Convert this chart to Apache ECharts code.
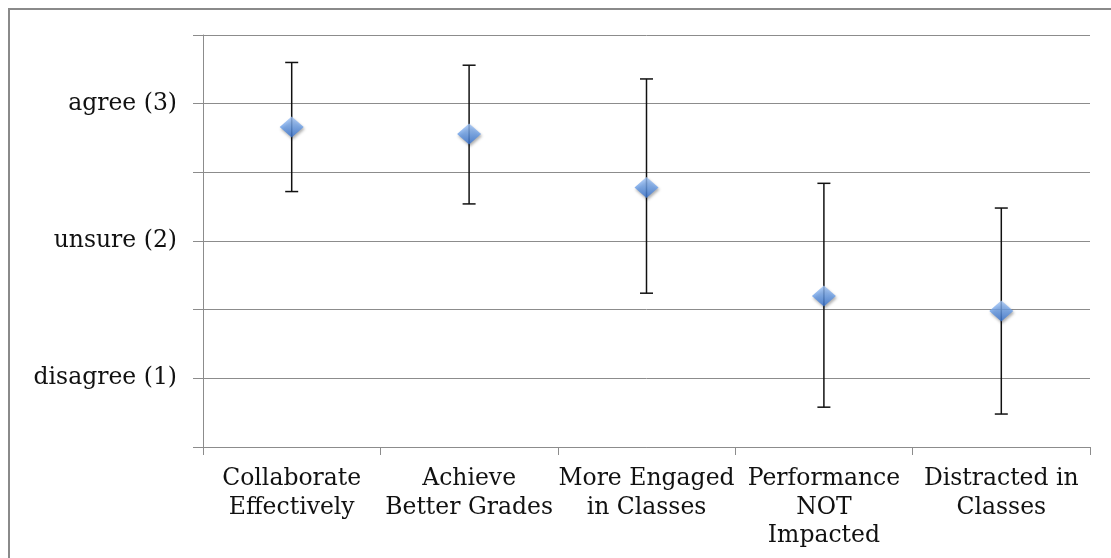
<!DOCTYPE html>
<html>
<head>
<meta charset="utf-8">
<script src="https://cdn.jsdelivr.net/npm/echarts@6/dist/echarts.min.js"></script>
<style>
html,body{margin:0;padding:0;background:#fff;}
#chart{width:1111px;height:558px;}
</style>
</head>
<body>
<div id="chart"></div>
<script>
var categories = ["Collaborate\nEffectively", "Achieve\nBetter Grades", "More Engaged\nin Classes", "Performance\nNOT\nImpacted", "Distracted in\nClasses"];
var means = [2.83, 2.78, 2.39, 1.60, 1.49];
var upper = [3.30, 3.28, 3.18, 2.42, 2.24];
var lower = [2.36, 2.27, 1.62, 0.79, 0.74];
var yTickLabels = {1: "disagree (1)", 2: "unsure (2)", 3: "agree (3)"};

var errData = categories.map(function (c, i) { return [i, lower[i], upper[i]]; });
var FONT = "DejaVu Serif";

var chart = echarts.init(document.getElementById('chart'));
chart.setOption({
  animation: false,
  backgroundColor: '#fff',
  graphic: [{
    type: 'rect',
    shape: {x: 9, y: 9, width: 1200, height: 1000},
    style: {fill: 'none', stroke: '#8a8a8a', lineWidth: 2},
    z: 0
  }],
  grid: {left: 203, right: 21, top: 35, bottom: 111, containLabel: false},
  xAxis: {
    type: 'category',
    data: categories,
    boundaryGap: true,
    axisLine: {show: true, lineStyle: {color: '#8c8c8c', width: 1}},
    axisTick: {show: true, length: 8, interval: 0, lineStyle: {color: '#8c8c8c'}},
    axisLabel: {interval: 0, margin: 18, color: '#111', fontFamily: FONT, fontSize: 23.5, lineHeight: 28.5},
    splitLine: {show: false}
  },
  yAxis: {
    type: 'value',
    min: 0.5, max: 3.5, interval: 0.5,
    axisLine: {show: true, lineStyle: {color: '#8c8c8c', width: 1}},
    axisTick: {show: true, length: 10, lineStyle: {color: '#8c8c8c'}},
    axisLabel: {
      margin: 26, color: '#111', fontFamily: FONT, fontSize: 23.5, padding: [3, 0, 0, 0],
      formatter: function (v) { return yTickLabels[v] || ''; }
    },
    splitLine: {show: true, lineStyle: {color: '#8c8c8c', width: 1}}
  },
  series: [{
    type: 'custom',
    z: 2,
    data: errData,
    renderItem: function (params, api) {
      var x = api.value(0);
      var lo = api.coord([x, api.value(1)]);
      var hi = api.coord([x, api.value(2)]);
      var hw = 6.5;
      var st = {stroke: '#111', lineWidth: 1.5};
      return {type: 'group', children: [
        {type: 'line', shape: {x1: hi[0], y1: hi[1], x2: lo[0], y2: lo[1]}, style: st},
        {type: 'line', shape: {x1: hi[0] - hw, y1: hi[1], x2: hi[0] + hw, y2: hi[1]}, style: st},
        {type: 'line', shape: {x1: lo[0] - hw, y1: lo[1], x2: lo[0] + hw, y2: lo[1]}, style: st}
      ]};
    }
  }, {
    type: 'scatter',
    z: 3,
    data: means,
    symbol: 'diamond',
    symbolSize: [24, 21],
    itemStyle: {
      color: new echarts.graphic.LinearGradient(0, 0, 0, 1, [
        {offset: 0, color: '#a4c6f6'},
        {offset: 0.5, color: '#6b9fe8'},
        {offset: 1, color: '#3672d0'}
      ]),
      shadowBlur: 3, shadowColor: 'rgba(0,0,0,0.4)', shadowOffsetX: 1, shadowOffsetY: 2
    }
  }]
});
</script>
</body>
</html>
